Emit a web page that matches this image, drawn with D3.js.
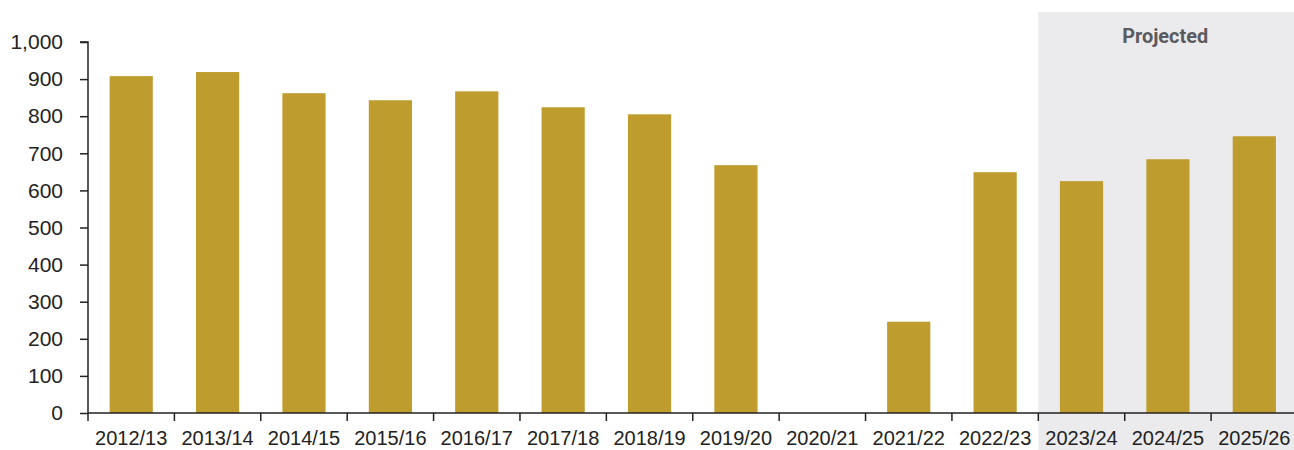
<!DOCTYPE html>
<html lang="en">
<head>
<meta charset="utf-8">
<title>Bar chart</title>
<script src="https://cdn.jsdelivr.net/npm/d3@7"></script>
<style>
  body { margin: 0; background: #fff; }
  .tick text { font-family: "Liberation Sans", Arial, sans-serif; font-size: 21px; fill: #222; }
  .domain, .tick line { stroke: #222; stroke-width: 1.5px; }
</style>
</head>
<body>
<div id="chart"></div>
<script>
// data
var years = ["2012/13", "2013/14", "2014/15", "2015/16", "2016/17", "2017/18", "2018/19",
             "2019/20", "2020/21", "2021/22", "2022/23", "2023/24", "2024/25", "2025/26"];
var values = [908, 919, 862, 843, 867, 824, 805, 668, 0, 246, 649, 625, 684, 746];
var projected = ["2023/24", "2024/25", "2025/26"];
var yTicks = [0, 100, 200, 300, 400, 500, 600, 700, 800, 900, 1000];

var width = 1294, height = 450,
    margin = {top: 42, right: -3.5, bottom: 37, left: 88};

var svg = d3.select("#chart").append("svg")
    .attr("width", width)
    .attr("height", height);

var x = d3.scaleBand()
    .domain(years)
    .range([margin.left, width - margin.right])
    .paddingInner(0.5)
    .paddingOuter(0.25);

var y = d3.scaleLinear()
    .domain([0, 1000])
    .range([height - margin.bottom, margin.top]);

// shaded projected area
var px0 = x(projected[0]) - x.step() * x.paddingInner() / 2;
svg.append("rect")
    .attr("x", px0)
    .attr("y", 12)
    .attr("width", width - px0)
    .attr("height", height - 12)
    .attr("fill", "#ebebee");

svg.append("text")
    .attr("x", (px0 + width) / 2 - 1)
    .attr("y", 43)
    .attr("text-anchor", "middle")
    .attr("font-family", "Roboto, sans-serif")
    .attr("font-weight", "bold")
    .attr("font-size", 20)
    .attr("textLength", 86)
    .attr("lengthAdjust", "spacingAndGlyphs")
    .attr("fill", "#5b5b5f")
    .text("Projected");

// bars
svg.append("g").selectAll("rect")
    .data(values)
    .join("rect")
    .attr("x", function(d, i) { return x(years[i]); })
    .attr("y", function(d) { return y(d); })
    .attr("width", x.bandwidth())
    .attr("height", function(d) { return y(0) - y(d); })
    .attr("fill", "#be9c2e");

// y axis
svg.append("g")
    .attr("transform", "translate(" + margin.left + ",0)")
    .call(d3.axisLeft(y).tickValues(yTicks).tickSize(8).tickPadding(17).tickFormat(d3.format(",")))
    .call(function(g) { g.select(".domain").attr("d", "M-8," + y(1000) + "H0V" + y(0)); });

// x axis, ticks between the bars
var xAxis = svg.append("g")
    .attr("transform", "translate(0," + y(0) + ")");
xAxis.append("line")
    .attr("class", "domain")
    .attr("x1", margin.left).attr("x2", width)
    .attr("stroke", "#222").attr("stroke-width", 1.5);
xAxis.selectAll(".sep")
    .data(years)
    .join("line")
    .attr("x1", function(d) { return x(d) - x.step() * 0.25; })
    .attr("x2", function(d) { return x(d) - x.step() * 0.25; })
    .attr("y1", 0).attr("y2", 8)
    .attr("stroke", "#222").attr("stroke-width", 1.5);
xAxis.selectAll(".lbl")
    .data(years)
    .join("text")
    .attr("class", "lbl")
    .attr("x", function(d) { return x(d) + x.bandwidth() / 2; })
    .attr("y", 32)
    .attr("text-anchor", "middle")
    .attr("font-family", "Liberation Sans, Arial, sans-serif")
    .attr("font-size", 20)
    .attr("fill", "#222")
    .text(function(d) { return d; });
</script>
</body>
</html>
